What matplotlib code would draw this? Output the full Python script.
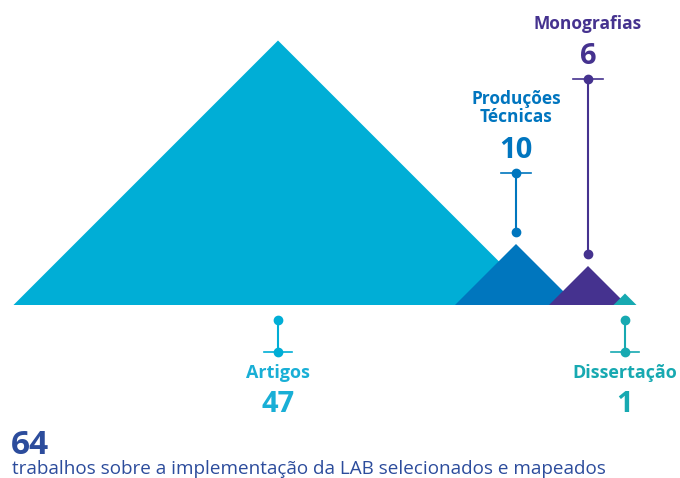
import matplotlib
matplotlib.use("Agg")
import matplotlib.pyplot as plt
from matplotlib.patches import Polygon

categories = ["Artigos", "Produções\nTécnicas", "Monografias", "Dissertação"]
values = [47, 10, 6, 1]
total = 64
subtitle = "trabalhos sobre a implementação da LAB selecionados e mapeados"

colors = ["#00AED6", "#0076BE", "#45328F", "#17A9B1"]
text_colors = ["#19AFD6", "#0075BF", "#45328F", "#17A9B1"]
centers = [278, 516, 588, 625]
label_pos = ["below", "above", "above", "below"]
base_y = 305

plt.rcParams['font.family'] = ['Open Sans', 'DejaVu Sans']
fig = plt.figure(figsize=(6.8, 4.78), dpi=100)
ax = fig.add_axes([0, 0, 1, 1])
ax.set_xlim(0, 680)
ax.set_ylim(478, 0)
ax.axis("off")

def height_of(v):
    return 6 + 5.5 * v

for cat, v, c, cx in zip(categories, values, colors, centers):
    h = height_of(v)
    tri = Polygon([(cx - h, base_y), (cx, base_y - h), (cx + h, base_y)],
                  closed=True, facecolor=c, edgecolor="none")
    ax.add_patch(tri)

for cat, v, c, tc, cx, pos in zip(categories, values, colors, text_colors, centers, label_pos):
    h = height_of(v)
    if pos == "below":
        y1, y2 = 320, 352
        ax.plot([cx, cx], [y1, y2], color=c, lw=1.5, zorder=3)
        ax.plot([cx - 14, cx + 14], [y2, y2], color=c, lw=1.2, zorder=3)
        ax.plot([cx, cx], [y1, y2], 'o', color=c, ms=6, zorder=4)
        ax.text(cx, 373, cat, ha="center", va="center", fontsize=13,
                fontweight="bold", color=tc)
        ax.text(cx, 404, str(v), ha="center", va="center", fontsize=21,
                fontweight="bold", color=tc)
    else:
        top = base_y - h - 12
        if v == 10:
            ybar = 173
            ylab = 108
        else:
            ybar = 79
            ylab = 24
        ax.plot([cx, cx], [ybar, top], color=c, lw=1.5, zorder=3)
        ax.plot([cx - 15, cx + 15], [ybar, ybar], color=c, lw=1.2, zorder=3)
        ax.plot([cx, cx], [ybar, top], 'o', color=c, ms=6, zorder=4)
        ax.text(cx, ybar - 23, str(v), ha="center", va="center", fontsize=21,
                fontweight="bold", color=tc)
        ax.text(cx, ylab, cat, ha="center", va="center", fontsize=12.5,
                fontweight="bold", color=tc, linespacing=1.05)

ax.text(11, 446, str(total), ha="left", va="center", fontsize=24,
        fontweight="bold", color="#2C4C9C")
ax.text(12, 469, subtitle, ha="left", va="center", fontsize=13.6,
        color="#2C4C9C")

fig.savefig("out.png", dpi=100)
